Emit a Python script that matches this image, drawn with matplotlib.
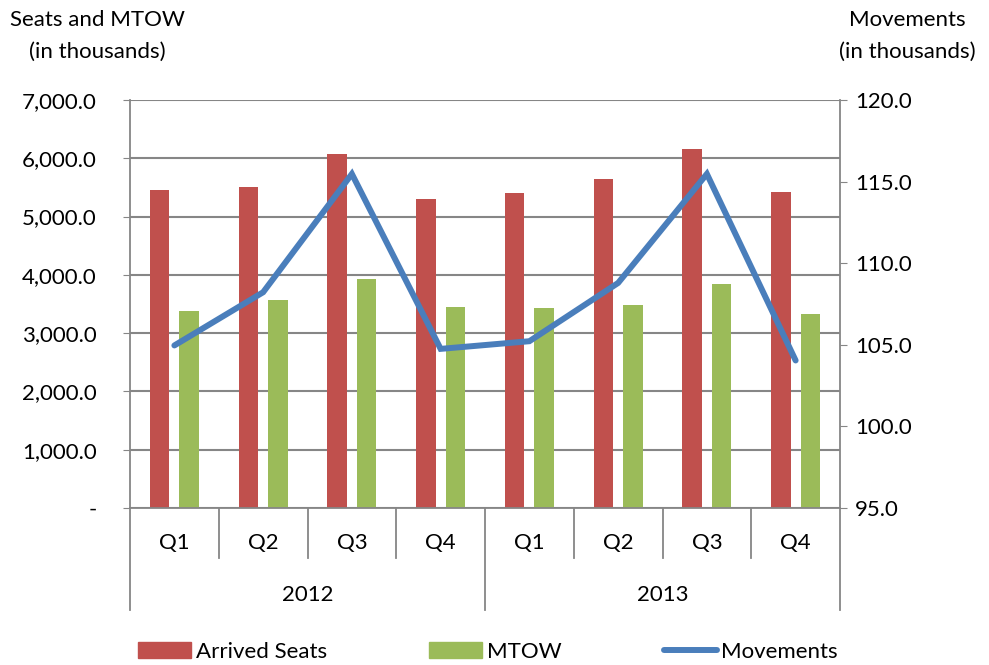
import matplotlib.pyplot as plt
import matplotlib.transforms as mtransforms
from matplotlib.patches import Patch
from matplotlib.lines import Line2D
from matplotlib.ticker import FuncFormatter

plt.rcParams['font.family'] = ['Lato', 'DejaVu Sans']
plt.rcParams['font.size'] = 16

years = ['2012', '2013']
quarters = ['Q1', 'Q2', 'Q3', 'Q4', 'Q1', 'Q2', 'Q3', 'Q4']
arrived_seats = [5455, 5512, 6069, 5294, 5408, 5649, 6155, 5420]
mtow = [3384, 3573, 3929, 3453, 3435, 3487, 3848, 3332]
movements = [104.96, 108.22, 115.47, 104.75, 105.22, 108.79, 115.47, 104.04]

red = '#c0504d'
green = '#9bbb59'
blue = '#4a7ebb'
grid_col = '#868686'

fig = plt.figure(figsize=(9.89, 6.65), dpi=100)
ax = fig.add_axes([130 / 989, 1 - 508 / 665, 710 / 989, 408 / 665])
ax2 = ax.twinx()

x = list(range(len(quarters)))
w = 0.22
off = 0.166
ax.bar([i - off for i in x], arrived_seats, width=w, color=red, zorder=2)
ax.bar([i + off for i in x], mtow, width=w, color=green, zorder=2)
ax2.plot(x, movements, color=blue, linewidth=4.3, solid_capstyle='round',
         solid_joinstyle='miter', zorder=3)

ax.set_xlim(-0.5, 7.5)
ax.set_ylim(0, 7000)
ax.set_yticks(range(0, 7001, 1000))
ax.yaxis.set_major_formatter(FuncFormatter(lambda v, p: '-' if v == 0 else f'{v:,.1f}'))
ax2.set_ylim(95, 120)
ax2.set_yticks([95, 100, 105, 110, 115, 120])
ax2.yaxis.set_major_formatter(FuncFormatter(lambda v, p: f'{v:.1f}'))

ax.grid(axis='y', color=grid_col, linewidth=1.5, zorder=0)
ax.set_axisbelow(True)
for a in (ax, ax2):
    for s in a.spines.values():
        s.set_color(grid_col)
        s.set_linewidth(1.3)
    a.spines['top'].set_visible(False)
ax.spines['right'].set_visible(False)
ax2.spines['left'].set_visible(False)
ax2.spines['bottom'].set_visible(False)

ax.tick_params(axis='y', length=5, color=grid_col, pad=19)
ax2.tick_params(axis='y', length=5, color=grid_col, pad=6)
ax.set_xticks([])

# two-level category axis
trans = mtransforms.blended_transform_factory(ax.transData, ax.transAxes)
for b in [0.5, 1.5, 2.5, 4.5, 5.5, 6.5]:
    ax.plot([b, b], [0, -0.1225], transform=trans, color=grid_col,
            linewidth=1.3, clip_on=False)
for b in [-0.5, 3.5, 7.5]:
    ax.plot([b, b], [0, -0.25], transform=trans, color=grid_col,
            linewidth=1.3, clip_on=False)
for i, q in enumerate(quarters):
    ax.text(i, -0.086, q, transform=trans, ha='center', va='center')
for j, yr in enumerate(years):
    ax.text(1.5 + 4 * j, -0.213, yr, transform=trans, ha='center', va='center')

fig.text(97 / 989, 1 - 20 / 665, 'Seats and MTOW', ha='center', va='center')
fig.text(97 / 989, 1 - 52 / 665, '(in thousands)', ha='center', va='center')
fig.text(907 / 989, 1 - 20 / 665, 'Movements', ha='center', va='center')
fig.text(907 / 989, 1 - 52 / 665, '(in thousands)', ha='center', va='center')

handles = [Patch(color=red), Patch(color=green),
           Line2D([0], [0], color=blue, linewidth=4.3, solid_capstyle='round')]
fig.legend(handles, ['Arrived Seats', 'MTOW', 'Movements'], ncol=3,
           loc='center', bbox_to_anchor=(488 / 989, 1 - 652 / 665),
           frameon=False, handlelength=2.4, handleheight=0.7,
           handletextpad=0.2, columnspacing=4.6, borderpad=0)

fig.savefig('out.png', dpi=100)
